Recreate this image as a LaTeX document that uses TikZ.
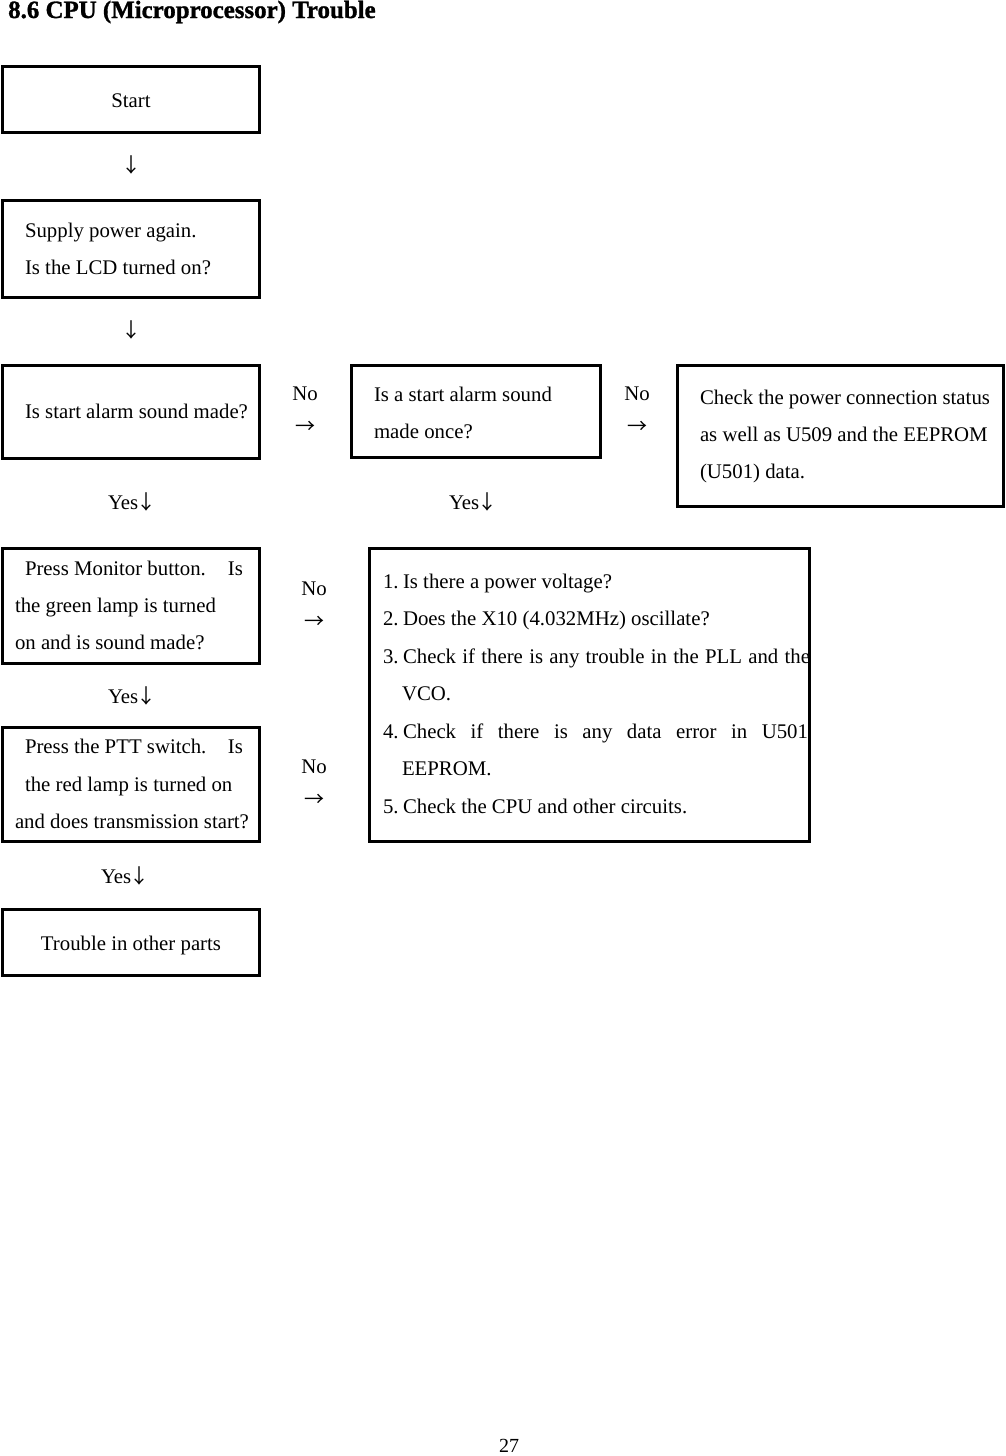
\documentclass[tikz,border=0pt]{standalone}
\usepackage{fontspec}
\setmainfont{Liberation Serif}
\newfontfamily\cjk{Noto Sans CJK SC}
\newfontfamily\titlefam[FakeBold=1.2]{Liberation Serif}
\newcommand\bodyfont{\fontsize{20.8}{37.5}\selectfont}
\newcommand\titlefont{\titlefam\fontsize{24.9}{30}\selectfont\bfseries}
\newcommand\dn{{\cjk\fontsize{20}{20}\selectfont ↓}}
\newcommand\rt{{\cjk\fontsize{20}{20}\selectfont →}}
\begin{document}
\begin{tikzpicture}[x=1pt,y=-1pt,
  box/.style={draw, line width=3pt, inner sep=0pt, outer sep=0pt, anchor=north west},
  txt/.style={anchor=base west, inner sep=0pt, outer sep=0pt, font=\bodyfont},
  ctxt/.style={anchor=base, inner sep=0pt, outer sep=0pt, font=\bodyfont},
  arr/.style={anchor=center, inner sep=0pt, outer sep=0pt, font=\bodyfont}]
\fill[white] (0,0) rectangle (1006,1456);
\useasboundingbox (0,0) rectangle (1006,1456);

% title
\node[anchor=base west, inner sep=0pt, font=\titlefont] (title) at (8,18) {8.6 CPU (Microprocessor) Trouble};

% boxes
\node[box, minimum width=257pt, minimum height=66pt] (start) at (2.5,66) {};
\node[box, minimum width=257pt, minimum height=97pt] (supply) at (2.5,200) {};
\node[box, minimum width=257pt, minimum height=93pt] (alarm) at (2.5,365) {};
\node[box, minimum width=248.5pt, minimum height=92.5pt] (once) at (351.5,365) {};
\node[box, minimum width=326.5pt, minimum height=141.5pt] (check) at (677,365) {};
\node[box, minimum width=257pt, minimum height=115pt] (monitor) at (2.5,548) {};
\node[box, minimum width=440pt, minimum height=293pt] (checks) at (369.5,548) {};
\node[box, minimum width=257pt, minimum height=114.5pt] (ptt) at (2.5,727) {};
\node[box, minimum width=257pt, minimum height=66.5pt] (other) at (2.5,909) {};

% texts in boxes
\node[ctxt] (tstart) at (131,107) {Start};
\node[txt] (tsup1) at (25,237.5) {Supply power again.};
\node[txt] (tsup2) at (25,274.5) {Is the LCD turned on?};
\node[txt] (talarm) at (25,418.5) {Is start alarm sound made?};
\node[txt] (tonce1) at (374,401) {Is a start alarm sound};
\node[txt] (tonce2) at (374,438) {made once?};
\node[txt] (tchk1) at (700,404) {Check the power connection status};
\node[txt] (tchk2) at (700,441) {as well as U509 and the EEPROM};
\node[txt] (tchk3) at (700,478) {(U501) data.};
\node[txt] (tmon1) at (25,575.5) {Press Monitor button.\hspace{22pt}Is};
\node[txt] (tmon2) at (15,612.5) {the green lamp is turned};
\node[txt] (tmon3) at (15,649.5) {on and is sound made?};
\node[txt] (tptt1) at (25,753.5) {Press the PTT switch.\hspace{21.5pt}Is};
\node[txt] (tptt2) at (25,791) {the red lamp is turned on};
\node[txt] (tptt3) at (15,828.5) {and does transmission start?};
\node[ctxt] (tother) at (131,950.5) {Trouble in other parts};

\node[txt] (n1) at (383,588) {1.};
\node[txt] (c1) at (403,588) {Is there a power voltage?};
\node[txt] (n2) at (383,625.5) {2.};
\node[txt] (c2) at (403,625.5) {Does the X10 (4.032MHz) oscillate?};
\node[txt] (n3) at (383,663) {3.};
\node[txt] (c3) at (403,663) {\makebox[407pt][s]{Check if there is any trouble in the PLL and the}};
\node[txt] (c3b) at (402,700) {VCO.};
\node[txt] (n4) at (383,738) {4.};
\node[txt] (c4) at (403,738) {\makebox[405pt][s]{Check if there is any data error in U501}};
\node[txt] (c4b) at (402,775.5) {EEPROM.};
\node[txt] (n5) at (383,813) {5.};
\node[txt] (c5) at (403,813) {Check the CPU and other circuits.};

% arrow glyphs and labels
\node[arr] (d1) at (131,165) {\dn};
\node[arr] (d2) at (131,330) {\dn};
\node[ctxt] (no1) at (305,400) {No};
\node[arr] (r1) at (305,427) {\rt};
\node[ctxt] (no2) at (637,400) {No};
\node[arr] (r2) at (637,427) {\rt};
\node[txt] (yes1) at (108,509) {Yes\kern-2pt\dn};
\node[txt] (yes2) at (449,509) {Yes\kern-2pt\dn};
\node[ctxt] (no3) at (314,595) {No};
\node[arr] (r3) at (314,622) {\rt};
\node[txt] (yes3) at (108,703) {Yes\kern-2pt\dn};
\node[ctxt] (no4) at (314,773) {No};
\node[arr] (r4) at (314,800) {\rt};
\node[txt] (yes4) at (101,883) {Yes\kern-2pt\dn};

% page number
\node[anchor=base, inner sep=0pt, font=\fontsize{20}{24}\selectfont\rmfamily] (page) at (509,1452) {27};
\end{tikzpicture}
\end{document}
